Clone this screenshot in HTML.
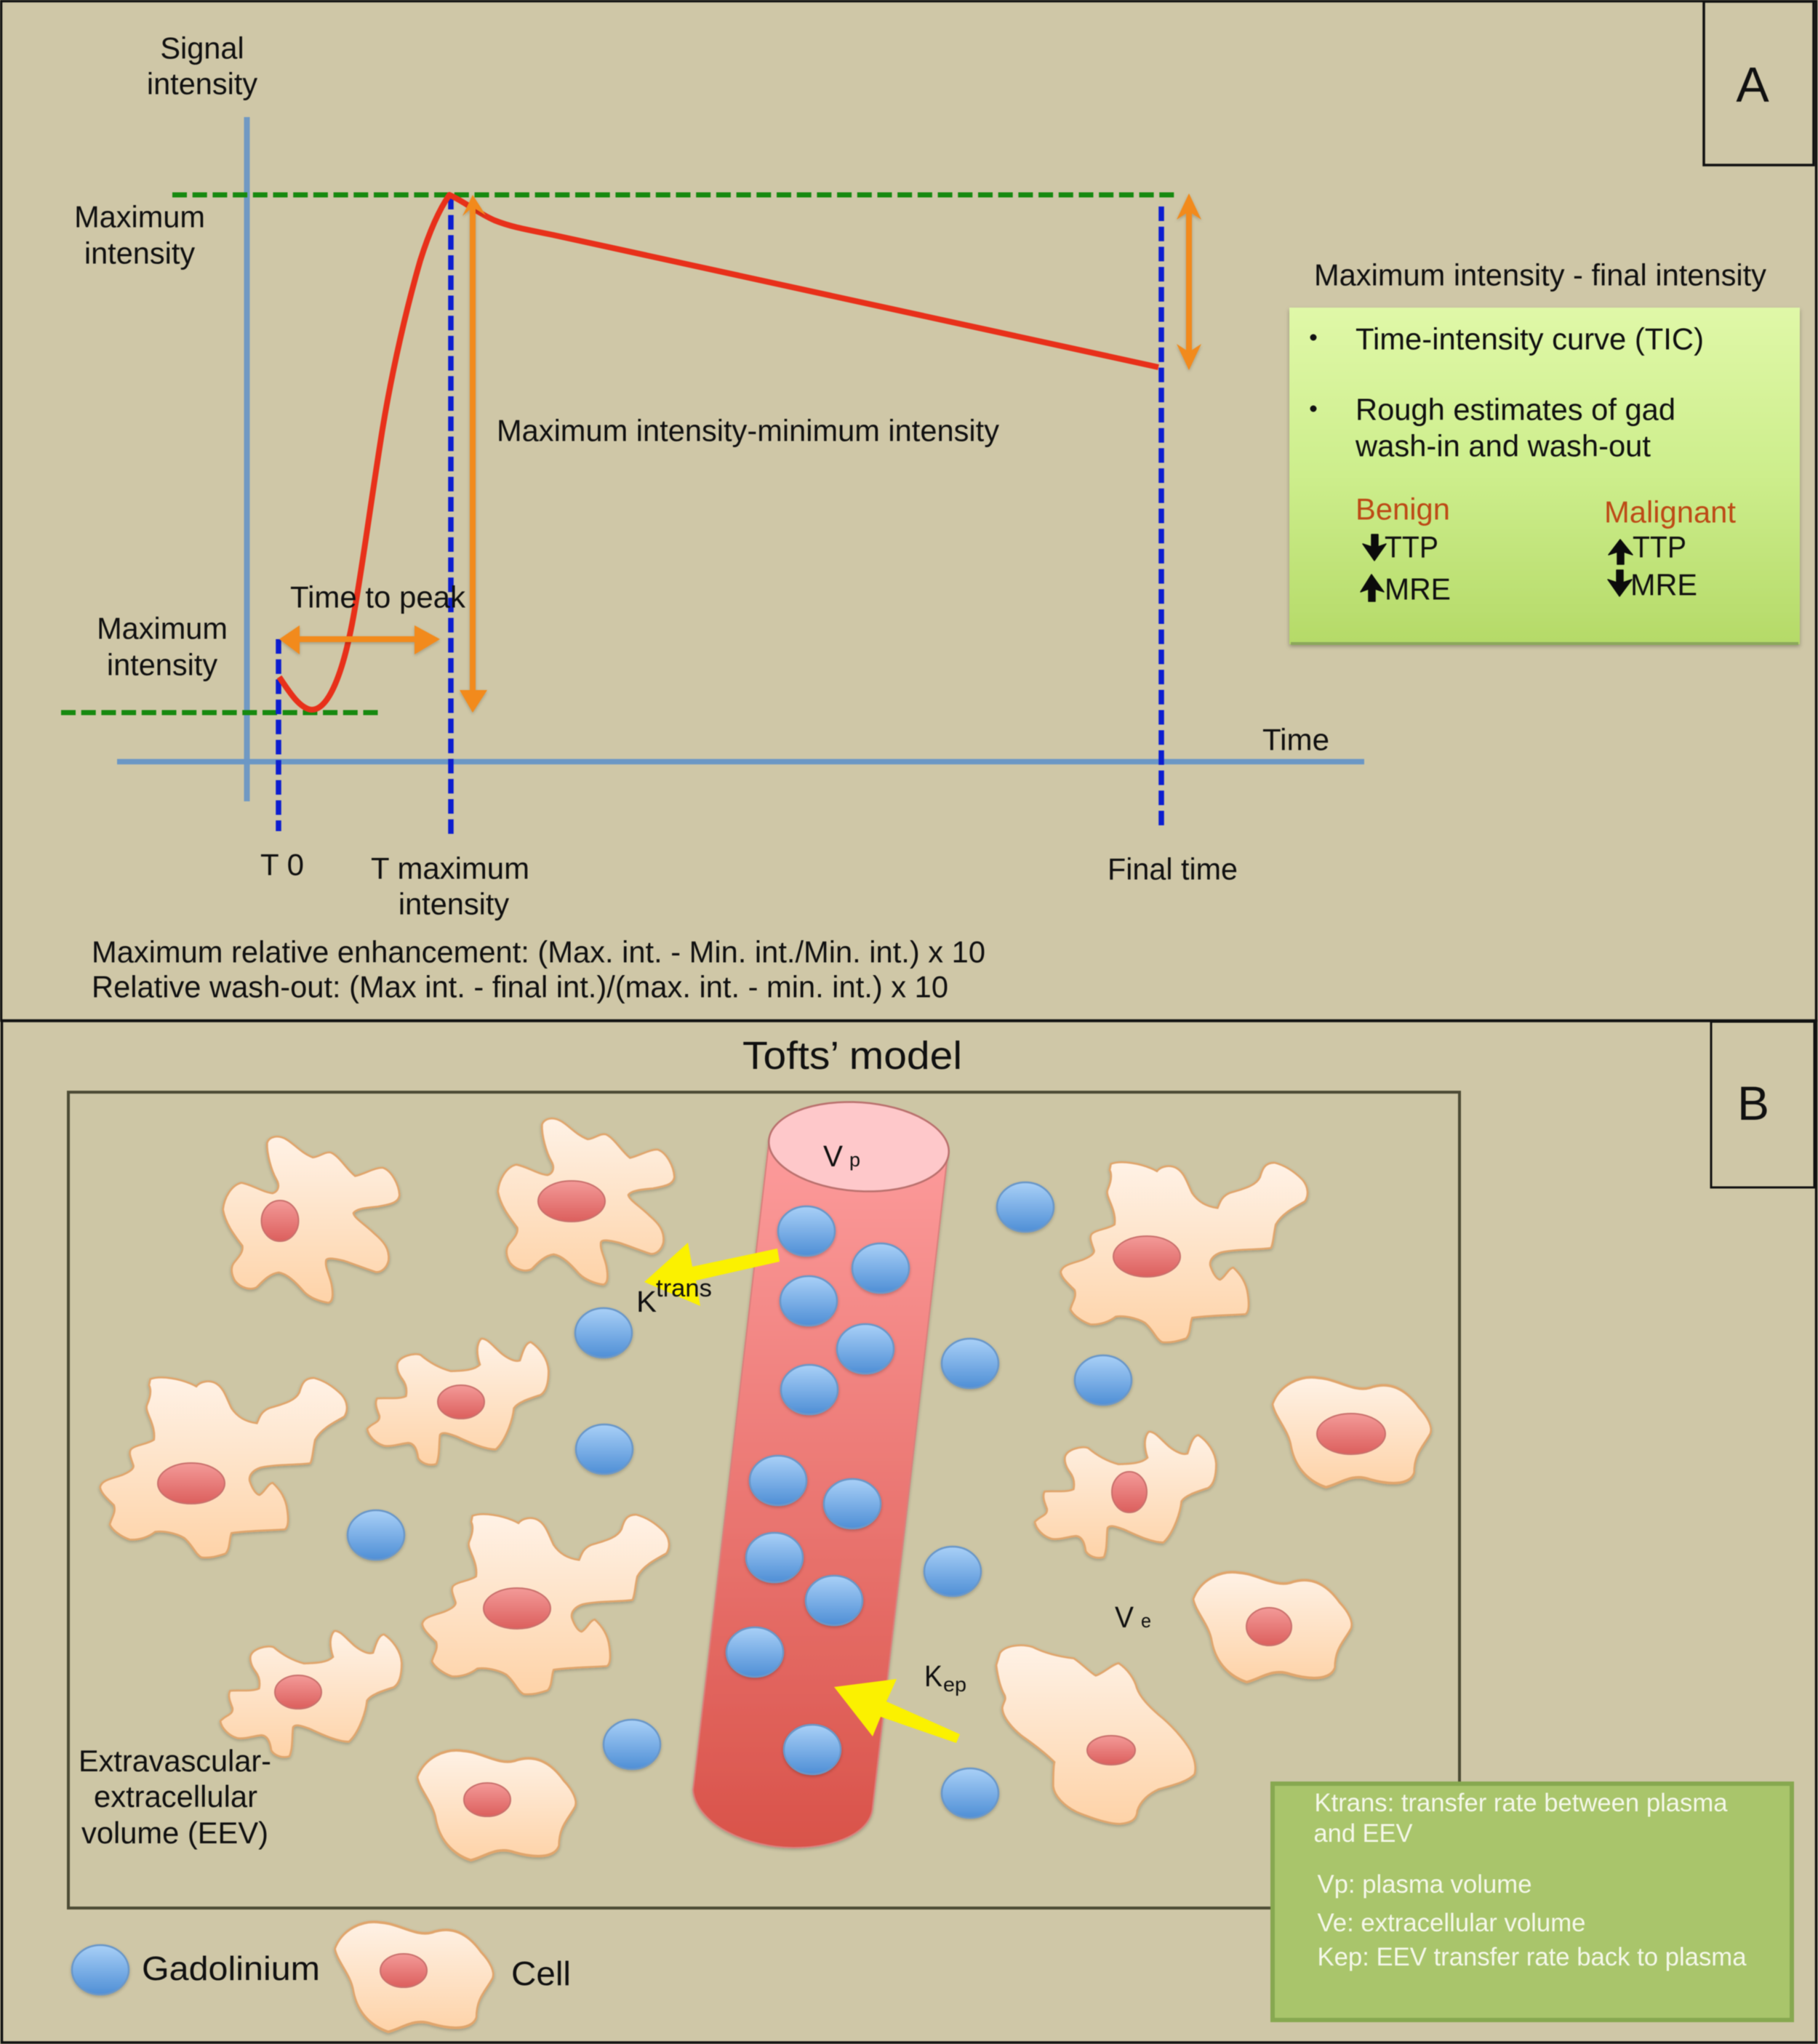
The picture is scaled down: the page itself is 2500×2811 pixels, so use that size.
<!DOCTYPE html>
<html lang="en">
<head>
<meta charset="utf-8">
<title>Time-intensity curve and Tofts' model</title>
<style>
html,body{margin:0;padding:0;background:#cfc7a7;width:2500px;height:2811px;overflow:hidden}
svg{display:block;filter:blur(0.6px)}
text{font-family:"Liberation Sans",sans-serif;fill:#101010;font-size:41.5px}
.w{fill:#f5f8ea;font-size:35px}
.o{fill:#bd4a16}
</style>
</head>
<body>
<svg xmlns="http://www.w3.org/2000/svg" width="2500" height="2811" viewBox="0 0 2500 2811">
<defs>
<linearGradient id="gB" x1="0" y1="0" x2="0" y2="1"><stop offset="0" stop-color="#a9d0f7"/><stop offset="1" stop-color="#4f8fd6"/></linearGradient>
<linearGradient id="gC" x1="0" y1="0" x2="0" y2="1"><stop offset="0" stop-color="#fff2e6"/><stop offset="1" stop-color="#fed3a8"/></linearGradient>
<linearGradient id="gN" x1="0" y1="0" x2="0" y2="1"><stop offset="0" stop-color="#f39a98"/><stop offset="1" stop-color="#dc5f5d"/></linearGradient>
<linearGradient id="gV" x1="0" y1="0" x2="0" y2="1"><stop offset="0" stop-color="#fd9c9c"/><stop offset="1" stop-color="#d9534a"/></linearGradient>
<linearGradient id="gG" x1="0" y1="0" x2="0" y2="1"><stop offset="0" stop-color="#e0f8a8"/><stop offset="0.5" stop-color="#cdee8c"/><stop offset="1" stop-color="#b5da68"/></linearGradient>
<filter id="sh" x="-10%" y="-10%" width="120%" height="125%"><feDropShadow dx="0" dy="3" stdDeviation="3" flood-color="#000" flood-opacity="0.3"/></filter>
<filter id="sl" x="-5%" y="-5%" width="110%" height="110%"><feDropShadow dx="0" dy="2" stdDeviation="2" flood-color="#000" flood-opacity="0.22"/></filter>
<path id="c1" d="M232,95C240,70 275,60 310,80C345,100 370,135 420,155C445,155 470,130 495,135C530,150 560,205 595,232C630,225 680,195 710,198C745,210 775,265 778,310C775,345 730,350 690,358C650,362 600,365 588,385C590,405 640,435 675,470C710,500 738,530 733,580C725,615 700,630 680,628C640,615 590,595 550,582C520,575 480,565 475,580C470,610 490,640 498,680C505,720 505,750 485,755C450,750 410,735 385,710C350,670 315,635 280,630C240,635 210,670 190,690C165,705 125,695 100,665C85,640 80,610 95,590C115,565 135,545 130,520C100,480 60,430 50,370C55,320 85,270 125,260C165,265 215,300 255,303C280,295 285,270 270,245C250,210 230,140 232,95Z"/>
<path id="c2" d="M245,50C285,35 370,45 435,80C450,60 490,50 520,70C550,90 560,130 580,170C600,200 630,225 685,232C695,210 700,185 735,170C780,155 840,145 860,105C870,70 880,45 920,45C960,55 1000,80 1035,115C1060,145 1062,180 1045,205C1000,230 950,255 925,300C915,345 915,380 905,397C850,405 770,400 700,415C670,425 650,445 655,470C665,500 680,525 695,528C715,520 730,480 750,478C785,510 805,545 810,590C815,625 815,660 800,670C730,675 650,675 580,685C570,710 575,750 555,770C525,780 490,790 455,785C430,770 420,735 385,705C350,685 300,675 265,680C240,700 200,715 160,712C125,700 90,675 78,650C85,620 105,600 95,570C70,545 40,520 38,495C45,465 90,460 130,445C155,435 180,420 175,405C165,375 155,355 165,340C185,320 230,320 260,300C265,270 255,240 245,215C235,190 225,170 232,155C245,125 250,95 240,75Z"/>
<path id="c3" d="M155,150C165,120 225,105 250,115C285,145 330,170 375,182C420,180 470,180 495,155C480,110 480,70 500,48C525,45 550,80 585,110C610,130 640,145 660,138C670,110 680,65 705,62C740,85 775,130 778,180C778,225 770,265 745,280C700,295 650,310 635,335C630,385 600,470 560,505C510,505 440,470 395,450C365,440 340,430 330,445C325,480 330,530 315,565C285,575 250,560 240,540C235,505 225,480 200,478C170,480 130,495 100,490C65,480 35,450 30,420C50,395 85,395 80,365C70,340 60,315 70,295C100,290 160,300 190,285C195,260 190,235 175,215C160,195 150,170 155,150Z"/>
<path id="c4" d="M900,1160C915,1130 960,1115 1000,1120C1040,1122 1075,1142 1110,1135C1150,1125 1185,1135 1215,1165C1235,1180 1245,1195 1240,1205C1225,1225 1205,1235 1205,1265C1195,1285 1150,1283 1110,1275C1070,1265 1045,1282 1015,1287C985,1280 950,1262 940,1225C935,1200 905,1180 900,1160Z"/>
<path id="c5" d="M45,70C65,40 130,30 180,45C230,70 290,85 350,92C385,115 410,145 440,163C470,155 510,115 535,112C570,135 600,175 610,215C625,255 660,290 700,325C750,365 800,420 830,470C850,510 855,545 848,570C820,600 760,615 700,632C660,650 625,680 612,720C610,755 590,770 540,775C490,775 420,750 360,725C310,700 270,660 265,620C265,580 265,540 270,520C240,490 190,450 140,415C100,385 55,335 55,295C60,270 72,265 65,245C45,210 35,160 30,120Z"/>
</defs>

<rect width="2500" height="2811" fill="#cfc7a7"/>

<!-- Panel A frame -->
<rect x="1.5" y="1.5" width="2496" height="1402" fill="none" stroke="#111" stroke-width="3.5"/>
<rect x="2343" y="2" width="151" height="225" fill="none" stroke="#111" stroke-width="3.5"/>
<text x="2410" y="139.5" text-anchor="middle" style="font-size:68px">A</text>

<!-- axes -->
<line x1="339.5" y1="161" x2="339.5" y2="1102" stroke="#7099c3" stroke-width="8"/>
<line x1="161" y1="1047.5" x2="1876" y2="1047.5" stroke="#6b97c5" stroke-width="7.5"/>

<!-- green dashes -->
<line x1="237" y1="268" x2="1618" y2="268" stroke="#17890f" stroke-width="7" stroke-dasharray="20 7.7"/>
<line x1="84" y1="980" x2="520" y2="980" stroke="#17890f" stroke-width="7" stroke-dasharray="20 7.7"/>

<!-- blue dashes -->
<g stroke="#0c1dd0" stroke-width="7.5" stroke-dasharray="20 7.7">
<line x1="383" y1="879" x2="383" y2="1143"/>
<line x1="620" y1="268" x2="620" y2="1147"/>
<line x1="1597" y1="284" x2="1597" y2="1136"/>
</g>

<!-- red curve -->
<path d="M384,931C398,952 412,974 428,976C452,977 472,925 486,848C498,782 510,690 526,590C540,505 560,420 578,358C590,320 604,288 618,268C640,278 655,292 680,303C700,311 715,314 760,323L1593,505" fill="none" stroke="#e8301a" stroke-width="8" stroke-linejoin="round"/>

<!-- orange arrows -->
<g fill="#f28a1a" filter="url(#sl)">
<rect x="646" y="280" width="8" height="675"/>
<polygon points="650,268 668,296 650,285 636,297"/>
<polygon points="632,949 670,949 650,980"/>
<rect x="410" y="875" width="165" height="8"/>
<polygon points="384,879 412,860 412,900"/>
<polygon points="605,879 570,860 570,900"/>
<rect x="1631" y="280" width="8" height="215"/>
<polygon points="1635,266 1652,302 1635,291 1618,302"/>
<polygon points="1635,509 1652,473 1635,484 1618,473"/>
</g>

<!-- Panel A labels -->
<g transform="translate(0,-1.5)">
<text x="278" y="82" text-anchor="middle">Signal</text>
<text x="278" y="131" text-anchor="middle">intensity</text>
<text x="192" y="314" text-anchor="middle">Maximum</text>
<text x="192" y="364" text-anchor="middle">intensity</text>
<text x="223" y="880" text-anchor="middle">Maximum</text>
<text x="223" y="930" text-anchor="middle">intensity</text>
<text x="399" y="837" textLength="241" lengthAdjust="spacingAndGlyphs">Time to peak</text>
<text x="683" y="608" textLength="691" lengthAdjust="spacingAndGlyphs">Maximum intensity-minimum intensity</text>
<text x="358" y="1205" textLength="60" lengthAdjust="spacingAndGlyphs">T 0</text>
<text x="510" y="1210" textLength="218" lengthAdjust="spacingAndGlyphs">T maximum</text>
<text x="624" y="1259" text-anchor="middle">intensity</text>
<text x="126" y="1325" textLength="1229" lengthAdjust="spacingAndGlyphs">Maximum relative enhancement: (Max. int. - Min. int./Min. int.) x 10</text>
<text x="126" y="1373" textLength="1178" lengthAdjust="spacingAndGlyphs">Relative wash-out: (Max int. - final int.)/(max. int. - min. int.) x 10</text>
<text x="1523" y="1211" textLength="179" lengthAdjust="spacingAndGlyphs">Final time</text>
<text x="1736" y="1033" textLength="92" lengthAdjust="spacingAndGlyphs">Time</text>
<text x="1807" y="394" textLength="622" lengthAdjust="spacingAndGlyphs">Maximum intensity - final intensity</text>
</g>

<!-- light green box -->
<rect x="1773" y="423" width="702" height="463" fill="url(#gG)" filter="url(#sh)"/>
<rect x="1775" y="883" width="698" height="4" fill="#8ba85b"/>
<circle cx="1806" cy="464" r="4.5" fill="#111"/>
<circle cx="1806" cy="562" r="4.5" fill="#111"/>
<g transform="translate(-1,-1.5)">
<text x="1865" y="482" textLength="479" lengthAdjust="spacingAndGlyphs">Time-intensity curve (TIC)</text>
<text x="1865" y="579" textLength="440" lengthAdjust="spacingAndGlyphs">Rough estimates of gad</text>
<text x="1865" y="629" textLength="406" lengthAdjust="spacingAndGlyphs">wash-in and wash-out</text>
<text x="1865" y="716" textLength="130" lengthAdjust="spacingAndGlyphs" class="o">Benign</text>
<text x="2207" y="720" textLength="181" lengthAdjust="spacingAndGlyphs" class="o">Malignant</text>
<text x="1905" y="768" textLength="74" lengthAdjust="spacingAndGlyphs">TTP</text>
<text x="1905" y="826" textLength="91" lengthAdjust="spacingAndGlyphs">MRE</text>
<text x="2246" y="768" textLength="74" lengthAdjust="spacingAndGlyphs">TTP</text>
<text x="2243" y="820" textLength="92" lengthAdjust="spacingAndGlyphs">MRE</text>
</g>
<g fill="#0b0b0b" stroke="#0b0b0b" stroke-width="1.5" stroke-linejoin="round">
<polygon points="1886,735 1895,735 1895,752 1906,748 1890,771 1874,748 1886,752"/>
<polygon points="1882,827 1891,827 1891,810 1903,814 1886,790 1871,814 1882,810"/>
<polygon points="2224,776 2233,776 2233,759 2245,763 2228,742 2212,763 2224,759"/>
<polygon points="2223,784 2232,784 2232,801 2244,797 2227,820 2211,797 2223,801"/>
</g>

<!-- Panel B frame -->
<rect x="2.5" y="1404" width="2495" height="1405" fill="none" stroke="#111" stroke-width="3.5"/>
<rect x="2353" y="1405" width="142" height="228" fill="none" stroke="#111" stroke-width="3"/>
<text x="2411" y="1540" text-anchor="middle" style="font-size:66px">B</text>
<text x="1021" y="1470" textLength="302" lengthAdjust="spacingAndGlyphs" style="font-size:54px">Tofts’ model</text>

<!-- inner rect -->
<rect x="94" y="1502" width="1913" height="1122" fill="#cdc6a5" stroke="#4c4b35" stroke-width="4"/>

<!-- cells -->
<g fill="url(#gC)" stroke="#e0a56c" filter="url(#sl)">
<g stroke-width="8">
<use href="#c1" transform="translate(290,1540) scale(.3333)"/>
<use href="#c1" transform="translate(668,1515) scale(.3333)"/>
<use href="#c2" transform="translate(125,1880) scale(.3333)"/>
<use href="#c2" transform="translate(568,2068) scale(.3333)"/>
<use href="#c2" transform="translate(1446,1584) scale(.3333)"/>
<use href="#c3" transform="translate(495,1825) scale(.3333)"/>
<use href="#c3" transform="translate(293,2227) scale(.3333)"/>
<use href="#c3" transform="translate(1413,1953) scale(.3333)"/>
<use href="#c5" transform="translate(1360,2250) scale(.3333)"/>
</g>
<g stroke-width="4">
<use href="#c4" transform="translate(0,1400) scale(0.6378,0.9)"/>
<use href="#c4" transform="translate(-113.5,1636) scale(0.6378,0.9)"/>
<use href="#c4" transform="translate(1067,1155) scale(0.6378,0.9)"/>
<use href="#c4" transform="translate(1176,887) scale(0.6378,0.9)"/>
</g>
</g>

<!-- nuclei -->
<g fill="url(#gN)" stroke="#c9706c" stroke-width="2">
<ellipse cx="385" cy="1679" rx="25.5" ry="28"/>
<ellipse cx="786" cy="1652" rx="46" ry="28"/>
<ellipse cx="263" cy="2040" rx="46" ry="28"/>
<ellipse cx="711" cy="2212" rx="46" ry="28"/>
<ellipse cx="1577" cy="1728" rx="46" ry="28"/>
<ellipse cx="634" cy="1928" rx="32" ry="23"/>
<ellipse cx="410" cy="2327" rx="32" ry="23"/>
<ellipse cx="1553" cy="2052" rx="24" ry="28"/>
<ellipse cx="670" cy="2475" rx="32" ry="23"/>
<ellipse cx="555" cy="2710" rx="32" ry="23"/>
<ellipse cx="1745" cy="2237" rx="31" ry="26"/>
<ellipse cx="1858" cy="1972" rx="47" ry="28"/>
<ellipse cx="1528" cy="2407" rx="33" ry="20"/>
</g>

<!-- vessel -->
<g filter="url(#sl)">
<path d="M1058,1566L953,2462C958,2510 1030,2541 1091,2541C1150,2541 1198,2520 1200,2485L1303,1589Z" fill="url(#gV)" stroke="#d9807d" stroke-width="2"/>
</g>
<ellipse cx="1181" cy="1577" rx="124" ry="61" transform="rotate(4 1181 1577)" fill="#fec8ca" stroke="#b9706d" stroke-width="2.5"/>

<!-- gadolinium -->
<g fill="url(#gB)" stroke="#6a97c8" stroke-width="2.5" filter="url(#sl)">
<ellipse cx="1109" cy="1693" rx="39" ry="34"/>
<ellipse cx="1211" cy="1744" rx="39" ry="34"/>
<ellipse cx="1112" cy="1789" rx="39" ry="34"/>
<ellipse cx="1190" cy="1855" rx="39" ry="34"/>
<ellipse cx="1113" cy="1911" rx="39" ry="34"/>
<ellipse cx="1070" cy="2036" rx="39" ry="34"/>
<ellipse cx="1172" cy="2068" rx="39" ry="34"/>
<ellipse cx="1065" cy="2142" rx="39" ry="34"/>
<ellipse cx="1147" cy="2201" rx="39" ry="34"/>
<ellipse cx="1038" cy="2272" rx="39" ry="34"/>
<ellipse cx="1117" cy="2406" rx="39" ry="34"/>
<ellipse cx="1410" cy="1660" rx="39" ry="34"/>
<ellipse cx="1334" cy="1875" rx="39" ry="34"/>
<ellipse cx="1517" cy="1898" rx="39" ry="34"/>
<ellipse cx="1310" cy="2161" rx="39" ry="34"/>
<ellipse cx="1334" cy="2466" rx="39" ry="34"/>
<ellipse cx="830" cy="1833" rx="39" ry="34"/>
<ellipse cx="831" cy="1993" rx="39" ry="34"/>
<ellipse cx="517" cy="2111" rx="39" ry="34"/>
<ellipse cx="869" cy="2399" rx="39" ry="34"/>
<ellipse cx="138" cy="2709" rx="39" ry="34"/>
</g>

<!-- yellow arrows -->
<polygon points="886,1763 946,1709 952,1742 1069,1717 1072,1735 957,1761 963,1796" fill="#fbf100"/>
<polygon points="1147,2320 1233,2309 1219,2340 1320,2385 1315,2397 1211,2361 1200,2388" fill="#fbf100"/>

<!-- Panel B labels -->
<text x="1132" y="1604" textLength="27" lengthAdjust="spacingAndGlyphs" style="font-size:41px">V</text>
<text x="1168" y="1604" textLength="15" lengthAdjust="spacingAndGlyphs" style="font-size:27px">p</text>
<text x="1533" y="2238" textLength="26" lengthAdjust="spacingAndGlyphs" style="font-size:41px">V</text>
<text x="1569" y="2238" textLength="14" lengthAdjust="spacingAndGlyphs" style="font-size:27px">e</text>
<text x="1271" y="2319" textLength="25" lengthAdjust="spacingAndGlyphs" style="font-size:41px">K</text>
<text x="1297" y="2326" textLength="32" lengthAdjust="spacingAndGlyphs" style="font-size:28px">ep</text>
<text x="875" y="1804" textLength="28" lengthAdjust="spacingAndGlyphs" style="font-size:41px">K</text>
<text x="902" y="1783" textLength="77" lengthAdjust="spacingAndGlyphs" style="font-size:34px">trans</text>
<text x="108" y="2436" textLength="265" lengthAdjust="spacingAndGlyphs">Extravascular-</text>
<text x="129" y="2485" textLength="225" lengthAdjust="spacingAndGlyphs">extracellular</text>
<text x="112" y="2535" textLength="257" lengthAdjust="spacingAndGlyphs">volume (EEV)</text>
<text x="195" y="2723" textLength="245" lengthAdjust="spacingAndGlyphs" style="font-size:46px">Gadolinium</text>
<text x="703" y="2730" textLength="82" lengthAdjust="spacingAndGlyphs" style="font-size:46px">Cell</text>

<!-- bottom-right box -->
<rect x="1750" y="2453" width="714" height="325" fill="#a9c56b" stroke="#87a850" stroke-width="6"/>
<text class="w" x="1807.5" y="2491" textLength="568" lengthAdjust="spacingAndGlyphs">Ktrans: transfer rate between plasma</text>
<text class="w" x="1806.5" y="2533" textLength="136" lengthAdjust="spacingAndGlyphs">and EEV</text>
<text class="w" x="1811.5" y="2603" textLength="295" lengthAdjust="spacingAndGlyphs">Vp: plasma volume</text>
<text class="w" x="1811.5" y="2656" textLength="369" lengthAdjust="spacingAndGlyphs">Ve: extracellular volume</text>
<text class="w" x="1811.5" y="2703" textLength="590" lengthAdjust="spacingAndGlyphs">Kep: EEV transfer rate back to plasma</text>
</svg>
</body>
</html>
